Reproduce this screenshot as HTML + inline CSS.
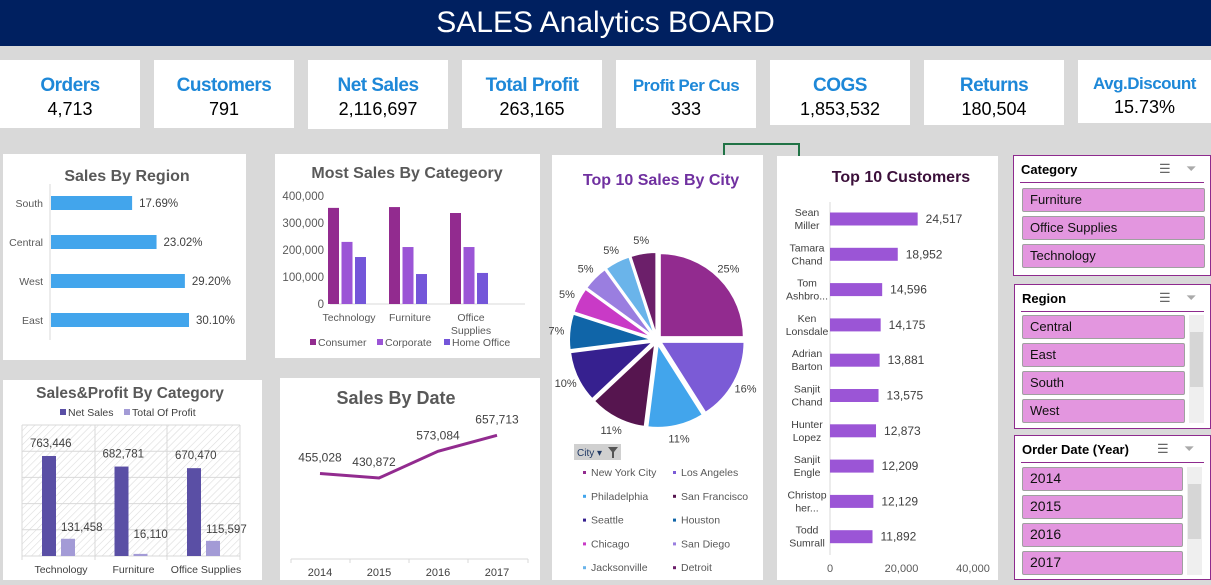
<!DOCTYPE html>
<html><head><meta charset="utf-8">
<style>
*{margin:0;padding:0;box-sizing:border-box}
body{width:1211px;height:585px;background:#d9d9d9;position:relative;overflow:hidden;font-family:"Liberation Sans",sans-serif}
.abs{position:absolute}
#header{left:0;top:0;width:1211px;height:46px;background:#002060;color:#fff;font-size:30px;text-align:center;line-height:46px}
.card{background:#fff;text-align:center}
.card .t{color:#1e88d8;font-weight:bold;font-size:19px;margin-top:15px;line-height:22px;letter-spacing:-0.5px}
.card .v{color:#000;font-size:18px;line-height:24px}
.panel{background:#fff}
.slicer{background:#fff;border:1.5px solid #8e2a8e}
.slicer .st{position:absolute;left:7px;top:6px;font-weight:bold;font-size:13px;color:#000}
.slicer .ln{position:absolute;left:6px;right:6px;height:1px;background:#8e2a8e}
.item{position:absolute;background:#e396df;border:1px solid #a0a0a0;border-radius:2px;font-size:13px;line-height:21px;padding-left:7px;color:#111}
.scroll{position:absolute;background:#efefef;width:15px}
.thumb{position:absolute;left:1px;width:13px;background:#d6d6d6}
.ico{position:absolute;font-size:13px;color:#666}
svg text{font-family:"Liberation Sans",sans-serif}
</style></head><body>
<div id="header" class="abs">SALES Analytics BOARD</div>

<div class="abs card" style="left:0;top:60px;width:140px;height:68px"><div class="t">Orders</div><div class="v">4,713</div></div>
<div class="abs card" style="left:154px;top:60px;width:140px;height:68px"><div class="t">Customers</div><div class="v">791</div></div>
<div class="abs card" style="left:308px;top:60px;width:140px;height:69px"><div class="t">Net Sales</div><div class="v">2,116,697</div></div>
<div class="abs card" style="left:462px;top:60px;width:140px;height:68px"><div class="t">Total Profit</div><div class="v">263,165</div></div>
<div class="abs card" style="left:616px;top:60px;width:140px;height:68px"><div class="t" style="font-size:17px">Profit Per Cus</div><div class="v">333</div></div>
<div class="abs card" style="left:770px;top:60px;width:140px;height:65px"><div class="t">COGS</div><div class="v">1,853,532</div></div>
<div class="abs card" style="left:924px;top:60px;width:140px;height:65px"><div class="t">Returns</div><div class="v">180,504</div></div>
<div class="abs card" style="left:1078px;top:60px;width:133px;height:63px"><div class="t" style="font-size:17px;margin-top:13px">Avg.Discount</div><div class="v">15.73%</div></div>

<div class="abs" style="left:723px;top:143px;width:77px;height:14px;border:2px solid #217346;border-bottom:none"></div>

<div class="abs panel" style="left:3px;top:154px;width:243px;height:206px"></div>
<div class="abs panel" style="left:275px;top:154px;width:265px;height:204px"></div>
<div class="abs panel" style="left:3px;top:380px;width:259px;height:200px"></div>
<div class="abs panel" style="left:280px;top:378px;width:260px;height:202px"></div>
<div class="abs panel" style="left:552px;top:155px;width:211px;height:425px"></div>
<div class="abs panel" style="left:777px;top:156px;width:221px;height:424px"></div>

<div class="abs slicer" style="left:1013px;top:155px;width:198px;height:121px">
 <div class="st">Category</div><div class="ico" style="left:145px;top:5px">☰</div><div class="ico" style="left:172px;top:5px;color:#aaa">⏷</div>
 <div class="ln" style="top:26px"></div>
 <div class="item" style="left:8px;top:32px;width:183px;height:24px">Furniture</div>
 <div class="item" style="left:8px;top:60px;width:183px;height:24px">Office Supplies</div>
 <div class="item" style="left:8px;top:88px;width:183px;height:24px">Technology</div>
</div>
<div class="abs slicer" style="left:1014px;top:284px;width:197px;height:145px">
 <div class="st">Region</div><div class="ico" style="left:144px;top:5px">☰</div><div class="ico" style="left:171px;top:5px;color:#aaa">⏷</div>
 <div class="ln" style="top:26px"></div>
 <div class="item" style="left:7px;top:30px;width:163px;height:24px">Central</div>
 <div class="item" style="left:7px;top:58px;width:163px;height:24px">East</div>
 <div class="item" style="left:7px;top:86px;width:163px;height:24px">South</div>
 <div class="item" style="left:7px;top:114px;width:163px;height:24px">West</div>
 <div class="scroll" style="left:174px;top:30px;height:108px"><div class="thumb" style="top:17px;height:55px"></div></div>
</div>
<div class="abs slicer" style="left:1014px;top:435px;width:197px;height:145px">
 <div class="st">Order Date (Year)</div><div class="ico" style="left:142px;top:5px">☰</div><div class="ico" style="left:169px;top:5px;color:#aaa">⏷</div>
 <div class="ln" style="top:26px"></div>
 <div class="item" style="left:7px;top:31px;width:161px;height:24px;font-size:14px">2014</div>
 <div class="item" style="left:7px;top:59px;width:161px;height:24px;font-size:14px">2015</div>
 <div class="item" style="left:7px;top:87px;width:161px;height:24px;font-size:14px">2016</div>
 <div class="item" style="left:7px;top:115px;width:161px;height:24px;font-size:14px">2017</div>
 <div class="scroll" style="left:172px;top:31px;height:108px"><div class="thumb" style="top:17px;height:55px"></div></div>
</div>

<svg id="charts" class="abs" style="left:0;top:0" width="1211" height="585">
<defs><pattern id="hatch" width="5" height="5" patternUnits="userSpaceOnUse" patternTransform="rotate(45)"><line x1="0" y1="0" x2="0" y2="5" stroke="#dcdcdc" stroke-width="1.2"/></pattern></defs>
<g id="g"></g>
</svg>

<script>
// Sales by region
const regionNames=["South","Central","West","East"];
const regionPct=[17.69,23.02,29.20,30.10];
// Most sales by category
const catNames=[["Technology"],["Furniture"],["Office","Supplies"]];
const segNames=["Consumer","Corporate","Home Office"];
const consumerVals=[356000,359000,337000];
const corporateVals=[230000,211000,211000];
const homeVals=[174000,111000,115000];
const catTicks=[0,100000,200000,300000,400000];
// Sales & profit
const spCats=["Technology","Furniture","Office Supplies"];
const netSales=[763446,682781,670470];
const profits=[131458,16110,115597];
// Sales by date
const years=["2014","2015","2016","2017"];
const yearSales=[455028,430872,573084,657713];
// Cities
const cities=["New York City","Los Angeles","Philadelphia","San Francisco","Seattle","Houston","Chicago","San Diego","Jacksonville","Detroit"];
const cityPct=[25,16,11,11,10,7,5,5,5,5];
// Customers
const custNames=[["Sean","Miller"],["Tamara","Chand"],["Tom","Ashbro..."],["Ken","Lonsdale"],["Adrian","Barton"],["Sanjit","Chand"],["Hunter","Lopez"],["Sanjit","Engle"],["Christop","her..."],["Todd","Sumrall"]];
const custSales=[24517,18952,14596,14175,13881,13575,12873,12209,12129,11892];
const custTicks=[0,20000,40000];

const G=document.getElementById('g');
const NS='http://www.w3.org/2000/svg';
function mk(tag,at,txt){const e=document.createElementNS(NS,tag);for(const k in at)e.setAttribute(k,at[k]);if(txt!==undefined)e.textContent=txt;G.appendChild(e);return e;}
const fmt=v=>v.toLocaleString('en-US');

// ---------- Sales by region
let t=mk('text',{x:127,y:181,'text-anchor':'middle','font-size':16,'font-weight':'bold',fill:'#595959'},'Sales By Region');

mk('line',{x1:50,y1:184,x2:50,y2:340,stroke:'#d9d9d9'});
const rx=p=>51+p*4.585, ry=i=>203+i*39;
regionNames.forEach((n,i)=>{
 const r=mk('rect',{x:51,y:ry(i)-7,width:rx(regionPct[i])-51,height:14,fill:'#42a5ec'});
 
 mk('text',{x:43,y:ry(i)+4,'text-anchor':'end','font-size':10.5,fill:'#595959'},n);
 mk('text',{x:rx(regionPct[i])+7,y:ry(i)+4,'font-size':11.5,fill:'#404040'},regionPct[i].toFixed(2)+'%');
});

// ---------- Most sales by category
t=mk('text',{x:407,y:178,'text-anchor':'middle','font-size':16,'font-weight':'bold',fill:'#595959'},'Most Sales By Categeory');

const cy=v=>304-v/400000*108;
catTicks.forEach(v=>mk('text',{x:324,y:cy(v)+4,'text-anchor':'end','font-size':11.5,fill:'#595959'},fmt(v)));
mk('line',{x1:330,y1:304,x2:525,y2:304,stroke:'#d9d9d9'});
const segCols=['#922b8f','#9b55d6','#7456d9'];
const segVals=[consumerVals,corporateVals,homeVals];
catNames.forEach((c,i)=>{
 const cx=347+i*61;
 segVals.forEach((arr,s)=>{
  const r=mk('rect',{x:cx+s*13.5-19,y:cy(arr[i]),width:11,height:304-cy(arr[i]),fill:segCols[s]});
  
 });
 c.forEach((l,k)=>mk('text',{x:cx+2,y:321+k*13,'text-anchor':'middle','font-size':10.5,fill:'#595959'},l));
});
[[310,'Consumer'],[377,'Corporate'],[444,'Home Office']].forEach((p,s)=>{
 mk('rect',{x:p[0],y:339,width:6,height:6,fill:segCols[s]});
 const e=mk('text',{x:p[0]+8,y:346,'font-size':10.5,fill:'#595959'},p[1]);
 
});

// ---------- Sales & Profit
t=mk('text',{x:130,y:398,'text-anchor':'middle','font-size':15.5,'font-weight':'bold',fill:'#595959'},'Sales&Profit By Category');

mk('rect',{x:60,y:409,width:6,height:6,fill:'#5a4fa5'});mk('text',{x:68,y:416,'font-size':10.5,fill:'#404040'},'Net Sales');
mk('rect',{x:124,y:409,width:6,height:6,fill:'#a39bd6'});mk('text',{x:132,y:416,'font-size':10.5,fill:'#404040'},'Total Of Profit');
mk('rect',{x:22,y:425,width:218,height:131,fill:'url(#hatch)'});
const sy=v=>556-v/1000000*131;
[0,200000,400000,600000,800000,1000000].forEach(v=>mk('line',{x1:22,y1:sy(v),x2:240,y2:sy(v),stroke:'#d9d9d9'}));
[22,95,167,240].forEach(x=>mk('line',{x1:x,y1:425,x2:x,y2:560,stroke:'#d9d9d9'}));
spCats.forEach((c,i)=>{
 const cx=58+i*72.5;
 let r=mk('rect',{x:cx-16,y:sy(netSales[i]),width:14,height:556-sy(netSales[i]),fill:'#5a4fa5'});
 
 r=mk('rect',{x:cx+3,y:sy(profits[i]),width:14,height:556-sy(profits[i]),fill:'#a39bd6'});
 
 mk('text',{x:cx-28,y:sy(netSales[i])-9,'font-size':11.5,fill:'#404040'},fmt(netSales[i]));
 mk('text',{x:cx+3,y:Math.min(sy(profits[i])-8,538),'font-size':11.5,fill:'#404040'},fmt(profits[i]));
 mk('text',{x:cx+3,y:573,'text-anchor':'middle','font-size':10.5,fill:'#404040'},c);
});

// ---------- Sales by date
t=mk('text',{x:396,y:404,'text-anchor':'middle','font-size':18,'font-weight':'bold',fill:'#595959'},'Sales By Date');

mk('line',{x1:291,y1:559,x2:528,y2:559,stroke:'#d9d9d9'});
const dx=i=>320+i*59, dy=v=>559-v*0.000188;
[291,350,409,468,528].forEach(x=>mk('line',{x1:x,y1:559,x2:x,y2:563,stroke:'#d9d9d9'}));
const line=mk('polyline',{points:yearSales.map((v,i)=>dx(i)+','+dy(v)).join(' '),fill:'none',stroke:'#922b8f','stroke-width':3});

yearSales.forEach((v,i)=>{
 mk('text',{x:dx(i)+(i==1?-5:0),y:dy(v)-12,'text-anchor':'middle','font-size':12,fill:'#404040'},fmt(v));
 mk('text',{x:dx(i),y:576,'text-anchor':'middle','font-size':11,fill:'#404040'},years[i]);
});

// ---------- Pie
t=mk('text',{x:661,y:185,'text-anchor':'middle','font-size':16,'font-weight':'bold',fill:'#7030a0'},'Top 10 Sales By City');

const pieCols=['#922b8f','#7b5bd6','#42a5ec','#56154f','#36208f','#1065a8','#c93ac6','#9a7ee0','#6ab4ea','#6c1f6a'];
const PCX=657,PCY=340,PR=84;
const tot=cityPct.reduce((a,b)=>a+b,0);
let ang=-Math.PI/2;
cityPct.forEach((p,i)=>{
 const a0=ang,a1=ang+p/tot*2*Math.PI;ang=a1;const am=(a0+a1)/2;
 const ox=PCX+4*Math.cos(am),oy=PCY+4*Math.sin(am);
 const x0=ox+PR*Math.cos(a0),y0=oy+PR*Math.sin(a0),x1=ox+PR*Math.cos(a1),y1=oy+PR*Math.sin(a1);
 const s=mk('path',{d:`M${ox},${oy}L${x0},${y0}A${PR},${PR} 0 ${a1-a0>Math.PI?1:0} 1 ${x1},${y1}Z`,fill:pieCols[i],stroke:'#fff','stroke-width':2});
 
 const lr=PR+17;
 mk('text',{x:PCX+lr*Math.cos(am),y:PCY+lr*Math.sin(am)+4,'text-anchor':'middle','font-size':11,fill:'#404040'},p+'%');
});
mk('rect',{x:574,y:444,width:47,height:16,fill:'#d0d0d0'});
t=mk('text',{x:577,y:456,'font-size':10,fill:'#1f3864'},'City ▾');
mk('path',{d:'M608,447h10l-4,5v6h-2v-6z',fill:'#555'});
cities.forEach((c,i)=>{
 const x=585+(i%2)*90,y=476+Math.floor(i/2)*23.8;
 mk('rect',{x:x-2,y:y-5,width:3,height:3,fill:pieCols[i]});
 const e=mk('text',{x:x+6,y:y,'font-size':10.5,fill:'#595959'},c);
 
});

// ---------- Customers
t=mk('text',{x:901,y:182,'text-anchor':'middle','font-size':16,'font-weight':'bold',fill:'#3b0f3a'},'Top 10 Customers');

const ux=v=>830+v/40000*143, uy=i=>219+i*35.3;
mk('line',{x1:830,y1:202,x2:830,y2:555,stroke:'#d9d9d9'});
custTicks.forEach(v=>mk('text',{x:ux(v),y:572,'text-anchor':'middle','font-size':11,fill:'#595959'},fmt(v)));
custNames.forEach((n,i)=>{
 const r=mk('rect',{x:830,y:uy(i)-6.5,width:ux(custSales[i])-830,height:13,fill:'#9b55d6'});
 
 mk('text',{x:ux(custSales[i])+8,y:uy(i)+4,'font-size':12,fill:'#404040'},fmt(custSales[i]));
 n.forEach((l,k)=>mk('text',{x:807,y:uy(i)-3+k*13,'text-anchor':'middle','font-size':10.5,fill:'#404040'},l));
});
</script>
</body></html>
